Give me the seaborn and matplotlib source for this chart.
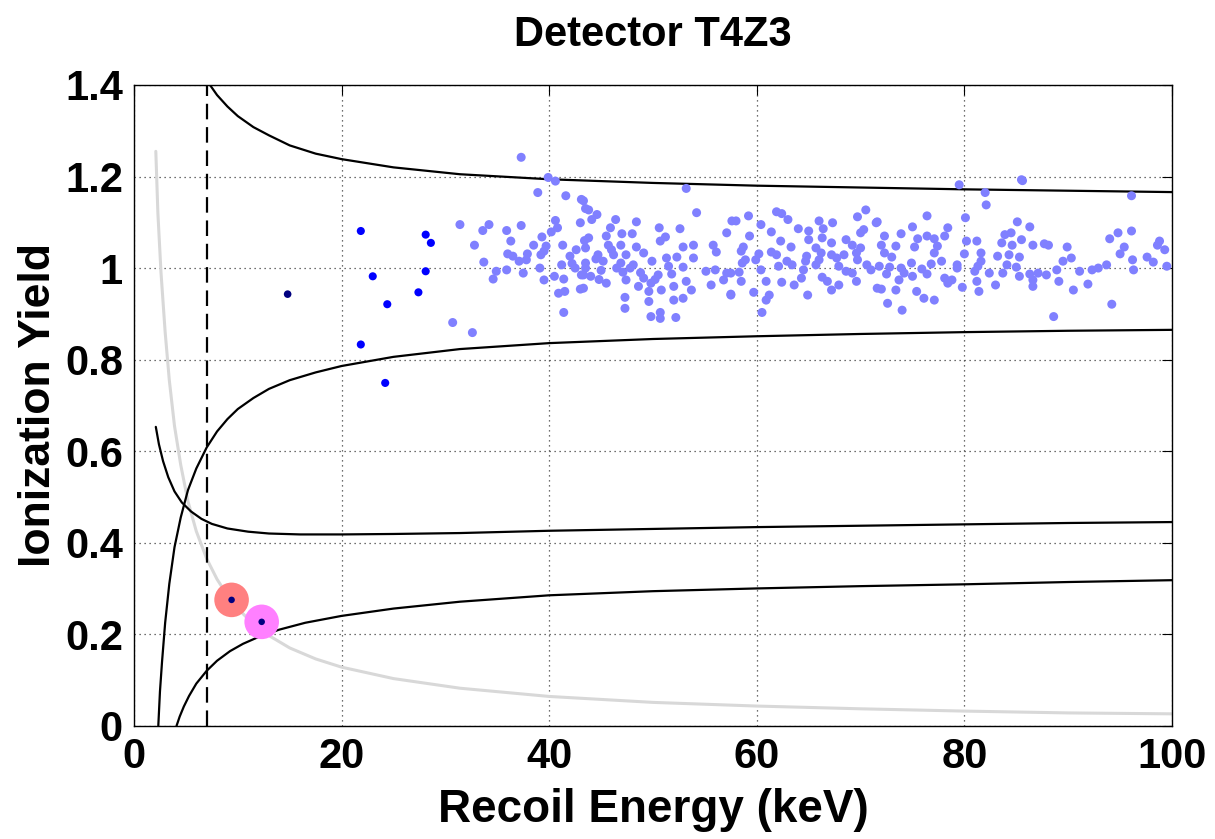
import matplotlib
matplotlib.use("Agg")
import matplotlib.pyplot as plt
import numpy as np
import pandas as pd
import seaborn as sns

# ---------------- data ----------------
# light blue events (recoil energy keV, ionization yield)
er_E = [37.3, 39.9, 40.6, 38.9, 41.6, 43.1, 43.5, 31.4, 34.2, 33.6, 35.9, 37.3, 40.6, 40.8, 40.2, 43.0,
        36.3, 32.8, 38.5, 39.3, 39.7, 41.3, 43.4, 36.0, 36.5, 37.9, 37.1, 39.2, 39.5, 33.7, 37.8, 42.0,
        42.6, 43.5, 34.9, 34.6, 35.9, 37.5, 39.1, 39.5, 40.5, 41.2, 41.4, 40.9, 41.5, 43.0, 42.5, 43.1,
        43.5, 41.4, 30.7, 32.6,
        53.2, 54.2, 57.6, 43.3, 43.8, 44.6, 44.1, 46.4, 45.9, 48.4, 50.6, 52.6, 57.1, 48.0, 47.0, 51.2,
        50.7, 43.8, 45.5, 45.7, 46.9, 48.4, 52.9, 53.9, 55.8, 56.1, 44.7, 46.2, 47.4, 49.1, 51.3, 52.3,
        53.9, 43.5, 45.2, 46.9, 48.1, 49.9, 51.5, 52.9, 55.1, 56.0, 57.1, 44.0, 47.1, 49.1, 50.5, 51.8,
        47.4, 45.5, 49.8, 53.2, 55.6, 56.8, 50.8, 52.0, 49.6, 53.7, 57.5, 47.3, 49.6, 52.0, 52.9, 47.3,
        49.8, 50.7, 50.7, 52.2, 43.3, 43.3, 44.5, 45.0, 46.0, 47.8, 48.6, 50.2, 44.8, 46.5, 48.8, 42.2,
        70.5, 69.7, 71.5, 61.9, 62.4, 63.0, 59.2, 58.0, 60.4, 66.0, 67.3, 64.0, 65.0, 66.4, 61.4, 70.3,
        70.0, 59.3, 62.3, 66.3, 65.0, 68.6, 67.2, 58.7, 63.3, 65.7, 69.2, 70.0, 61.4, 58.5, 60.2, 61.9,
        64.8, 66.2, 67.2, 68.4, 69.6, 58.9, 59.9, 62.9, 64.7, 66.0, 67.7, 69.7, 58.6, 62.1, 63.4, 65.7,
        67.9, 70.6, 57.5, 58.3, 60.4, 64.5, 68.6, 69.2, 71.0, 58.5, 60.9, 64.3, 66.3, 69.6, 62.4, 63.6,
        66.8, 67.9, 67.2, 71.6, 57.5, 59.7, 61.2, 60.9, 64.9, 60.5,
        79.5, 85.5, 82.0, 82.1, 76.4, 80.1, 71.6, 75.0, 78.4, 85.1, 73.9, 78.1, 72.3, 76.4, 75.5, 77.1,
        80.2, 81.2, 83.9, 84.5, 85.5, 72.0, 73.4, 75.2, 77.4, 83.6, 84.6, 72.3, 77.1, 80.0, 81.6, 84.3,
        73.0, 77.8, 76.8, 81.6, 83.2, 85.3, 71.8, 72.8, 73.9, 74.9, 75.9, 79.3, 81.3, 84.1, 85.0, 72.5,
        74.2, 76.4, 79.3, 81.0, 82.4, 83.7, 85.3, 73.7, 75.0, 78.1, 78.8, 81.2, 78.4, 72.0, 73.4, 75.4,
        79.8, 81.4, 83.0, 72.6, 76.1, 77.1, 74.0,
        85.6, 96.1, 86.3, 96.1, 94.8, 94.0, 86.6, 87.7, 88.1, 89.9, 95.4, 98.8, 98.6, 99.3, 95.0, 90.3,
        89.5, 96.2, 97.6, 98.2, 93.7, 92.9, 92.3, 91.1, 88.9, 99.5, 96.3, 86.3, 87.1, 87.9, 86.6, 86.6,
        89.1, 91.9, 90.5, 94.2, 88.6]
er_Y = [1.242, 1.198, 1.190, 1.165, 1.158, 1.150, 1.130, 1.095, 1.095, 1.082, 1.082, 1.093, 1.104, 1.088, 1.079, 1.099,
        1.059, 1.050, 1.050, 1.068, 1.048, 1.050, 1.060, 1.031, 1.026, 1.031, 1.015, 1.029, 1.037, 1.013, 1.018, 1.026,
        1.040, 1.044, 0.993, 0.976, 0.996, 0.989, 1.000, 0.974, 0.982, 1.007, 0.976, 0.945, 0.949, 0.954, 1.000, 0.985,
        1.000, 0.903, 0.881, 0.859,
        1.174, 1.121, 1.103, 1.147, 1.127, 1.117, 1.106, 1.106, 1.088, 1.101, 1.088, 1.086, 1.077, 1.075, 1.075, 1.068,
        1.059, 1.066, 1.070, 1.050, 1.050, 1.046, 1.046, 1.050, 1.050, 1.035, 1.029, 1.029, 1.029, 1.033, 1.022, 1.024,
        1.022, 1.011, 1.015, 1.011, 1.007, 1.015, 1.004, 1.002, 0.993, 0.996, 0.989, 0.982, 0.991, 0.978, 0.985, 0.987,
        0.974, 0.967, 0.967, 0.971, 0.963, 0.974, 0.952, 0.960, 0.949, 0.952, 0.943, 0.936, 0.927, 0.930, 0.934, 0.912,
        0.894, 0.903, 0.890, 0.892, 0.956, 0.985, 1.020, 0.995, 1.040, 1.000, 0.960, 0.975, 0.975, 1.000, 0.990, 1.010,
        1.127, 1.112, 1.099, 1.123, 1.119, 1.106, 1.114, 1.103, 1.095, 1.103, 1.099, 1.086, 1.081, 1.086, 1.079, 1.084,
        1.077, 1.070, 1.059, 1.066, 1.062, 1.062, 1.055, 1.046, 1.046, 1.044, 1.050, 1.044, 1.035, 1.037, 1.031, 1.029,
        1.026, 1.033, 1.029, 1.029, 1.033, 1.018, 1.018, 1.015, 1.015, 1.018, 1.022, 1.018, 1.011, 1.004, 1.007, 1.007,
        1.004, 1.007, 0.989, 0.991, 0.996, 0.996, 0.993, 0.989, 0.996, 0.971, 0.971, 0.978, 0.980, 0.971, 0.969, 0.963,
        0.971, 0.963, 0.952, 0.956, 0.941, 0.947, 0.941, 0.930, 0.941, 0.903,
        1.182, 1.193, 1.165, 1.138, 1.114, 1.110, 1.101, 1.090, 1.088, 1.101, 1.075, 1.070, 1.070, 1.070, 1.064, 1.064,
        1.059, 1.059, 1.073, 1.077, 1.062, 1.050, 1.048, 1.046, 1.048, 1.055, 1.050, 1.033, 1.033, 1.031, 1.033, 1.029,
        1.024, 1.015, 1.009, 1.015, 1.026, 1.024, 1.004, 1.002, 1.000, 1.011, 0.998, 1.007, 1.004, 1.007, 1.002, 0.987,
        0.989, 0.987, 1.000, 0.993, 0.989, 0.989, 0.982, 0.974, 0.982, 0.978, 0.974, 0.971, 0.967, 0.954, 0.952, 0.949,
        0.958, 0.949, 0.963, 0.923, 0.934, 0.930, 0.908,
        1.191, 1.158, 1.090, 1.081, 1.077, 1.064, 1.050, 1.053, 1.050, 1.046, 1.046, 1.059, 1.050, 1.040, 1.031, 1.022,
        1.015, 1.018, 1.024, 1.013, 1.007, 1.000, 0.996, 0.993, 0.996, 1.004, 0.996, 0.987, 0.989, 0.985, 0.974, 0.960,
        0.971, 0.965, 0.952, 0.921, 0.894]

# blue events
mid_E = [21.85, 28.1, 28.6, 23.0, 28.1, 27.4, 24.4, 21.85, 24.2]
mid_Y = [1.081, 1.073, 1.055, 0.982, 0.993, 0.947, 0.921, 0.833, 0.749]

# navy event
navy_E = [14.8]
navy_Y = [0.943]

# highlighted candidate events
cand_E = [9.4, 12.3]
cand_Y = [0.275, 0.227]
cand_colors = ["#FF8080", "#FF80FF"]

# band curves
er_hi_E = [6.5, 7.0, 7.32, 8.0, 9.0, 10.0, 11.5, 13.0, 15.0, 17.5, 20.0, 25.0, 31.4, 40.0, 50.0, 60.0, 70.0, 80.0, 90.0, 100.0]
er_hi_Y = [1.430, 1.410, 1.400, 1.378, 1.353, 1.332, 1.308, 1.290, 1.268, 1.250, 1.238, 1.220, 1.205, 1.194, 1.186, 1.180, 1.176, 1.172, 1.169, 1.166]

er_lo_E = [2.34, 2.5, 2.7, 3.0, 3.4, 3.9, 4.5, 5.2, 6.0, 7.0, 8.0, 9.0, 10.0, 11.5, 13.0, 15.0, 17.5, 20.0, 25.0, 31.4,
           40.0, 50.0, 60.0, 70.0, 80.0, 90.0, 100.0]
er_lo_Y = [0.0, 0.075, 0.140, 0.225, 0.310, 0.390, 0.455, 0.515, 0.562, 0.608, 0.643, 0.670, 0.692, 0.716, 0.736, 0.755,
           0.772, 0.786, 0.806, 0.823, 0.836, 0.845, 0.851, 0.856, 0.860, 0.863, 0.865]

nr_hi_E = [2.1, 2.4, 2.8, 3.3, 3.9, 4.6, 5.5, 6.5, 7.5, 9.0, 11.0, 13.0, 16.0, 20.0, 25.0, 31.4, 40.0, 50.0, 60.0, 70.0,
           80.0, 90.0, 100.0]
nr_hi_Y = [0.653, 0.615, 0.578, 0.543, 0.512, 0.488, 0.468, 0.452, 0.441, 0.431, 0.424, 0.420, 0.418, 0.418, 0.419, 0.421,
           0.426, 0.430, 0.434, 0.437, 0.440, 0.443, 0.445]

nr_lo_E = [4.1, 4.4, 4.8, 5.3, 6.0, 7.0, 8.0, 9.25, 10.5, 12.0, 14.0, 16.5, 20.0, 25.0, 31.4, 40.0, 50.0, 60.0, 70.0, 80.0,
           90.0, 100.0]
nr_lo_Y = [0.0, 0.020, 0.042, 0.065, 0.092, 0.120, 0.142, 0.163, 0.179, 0.194, 0.210, 0.225, 0.240, 0.256, 0.271, 0.285,
           0.294, 0.300, 0.305, 0.309, 0.314, 0.318]

thr_E = [2.1, 2.3, 2.6, 3.0, 3.4, 3.9, 4.5, 5.2, 6.0, 7.0, 8.0, 9.0, 10.0, 11.5, 13.0, 15.0, 17.5, 20.0, 25.0, 31.4,
         40.0, 50.0, 60.0, 70.0, 80.0, 90.0, 100.0]
thr_Y = [1.255, 1.120, 0.990, 0.860, 0.755, 0.655, 0.570, 0.490, 0.425, 0.365, 0.320, 0.285, 0.256, 0.222, 0.197, 0.170,
         0.146, 0.128, 0.103, 0.082, 0.064, 0.051, 0.043, 0.037, 0.032, 0.028, 0.026]

cut_E = 7.0

x_ticks = [0, 20, 40, 60, 80, 100]
y_ticks = [0, 0.2, 0.4, 0.6, 0.8, 1.0, 1.2, 1.4]
y_labels = ["0", "0.2", "0.4", "0.6", "0.8", "1", "1.2", "1.4"]

# ---------------- plot ----------------
sns.set_style("white")
plt.rcParams["font.family"] = ["Liberation Sans", "DejaVu Sans"]
plt.rcParams["font.weight"] = "bold"
plt.rcParams["text.color"] = "black"
plt.rcParams["axes.labelcolor"] = "black"
plt.rcParams["xtick.color"] = "black"
plt.rcParams["ytick.color"] = "black"

fig = plt.figure(figsize=(12.15, 8.39), dpi=100)
ax = fig.add_axes([0.1103, 0.135, 0.8543, 0.7637])

def curve(xs, ys, color, lw, z=2):
    df = pd.DataFrame({"E": xs, "Y": ys})
    sns.lineplot(data=df, x="E", y="Y", sort=False, estimator=None, color=color,
                 linewidth=lw, ax=ax, zorder=z)

curve(thr_E, thr_Y, "#D8D8D8", 2.2, z=2)
curve(er_hi_E, er_hi_Y, "black", 1.6, z=3)
curve(er_lo_E, er_lo_Y, "black", 1.6, z=3)
curve(nr_hi_E, nr_hi_Y, "black", 1.6, z=3)
curve(nr_lo_E, nr_lo_Y, "black", 1.6, z=3)
ax.axvline(cut_E, color="black", linestyle=(0, (7, 3.5)), linewidth=1.6, zorder=3)

sns.scatterplot(x=er_E, y=er_Y, color="#8080FF", s=42, edgecolor="none", ax=ax, zorder=4)
sns.scatterplot(x=mid_E, y=mid_Y, color="#0000FF", s=34, edgecolor="none", ax=ax, zorder=5)
sns.scatterplot(x=navy_E, y=navy_Y, color="#000080", s=30, edgecolor="none", ax=ax, zorder=5)
for e, y, c in zip(cand_E, cand_Y, cand_colors):
    sns.scatterplot(x=[e], y=[y], color=c, s=620, edgecolor="none", ax=ax, zorder=6)
sns.scatterplot(x=cand_E, y=cand_Y, color="#000080", s=22, edgecolor="none", ax=ax, zorder=7)

ax.set_xlim(0, 100)
ax.set_ylim(0, 1.4)
ax.set_xticks(x_ticks)
ax.set_yticks(y_ticks)
ax.set_yticklabels(y_labels)
ax.grid(True, linestyle=(0, (1, 3)), color="0.25", linewidth=0.9)
ax.tick_params(direction="in", top=True, right=True, length=7, width=0.8,
               labelsize=30, pad=8, colors="black")
for lab in ax.get_xticklabels() + ax.get_yticklabels():
    lab.set_fontweight("bold")
    lab.set_color("black")
for sp in ax.spines.values():
    sp.set_color("black")
    sp.set_linewidth(1.0)
    sp.set_visible(True)

ax.set_xlabel("Recoil Energy (keV)", fontsize=33, fontweight="bold", labelpad=8, color="black")
ax.set_ylabel("Ionization Yield", fontsize=32, fontweight="bold", labelpad=4, color="black")
ax.set_title("Detector T4Z3", fontsize=30, fontweight="bold", pad=28, color="black")
if ax.get_legend() is not None:
    ax.get_legend().remove()

fig.savefig("out.png", dpi=100)
